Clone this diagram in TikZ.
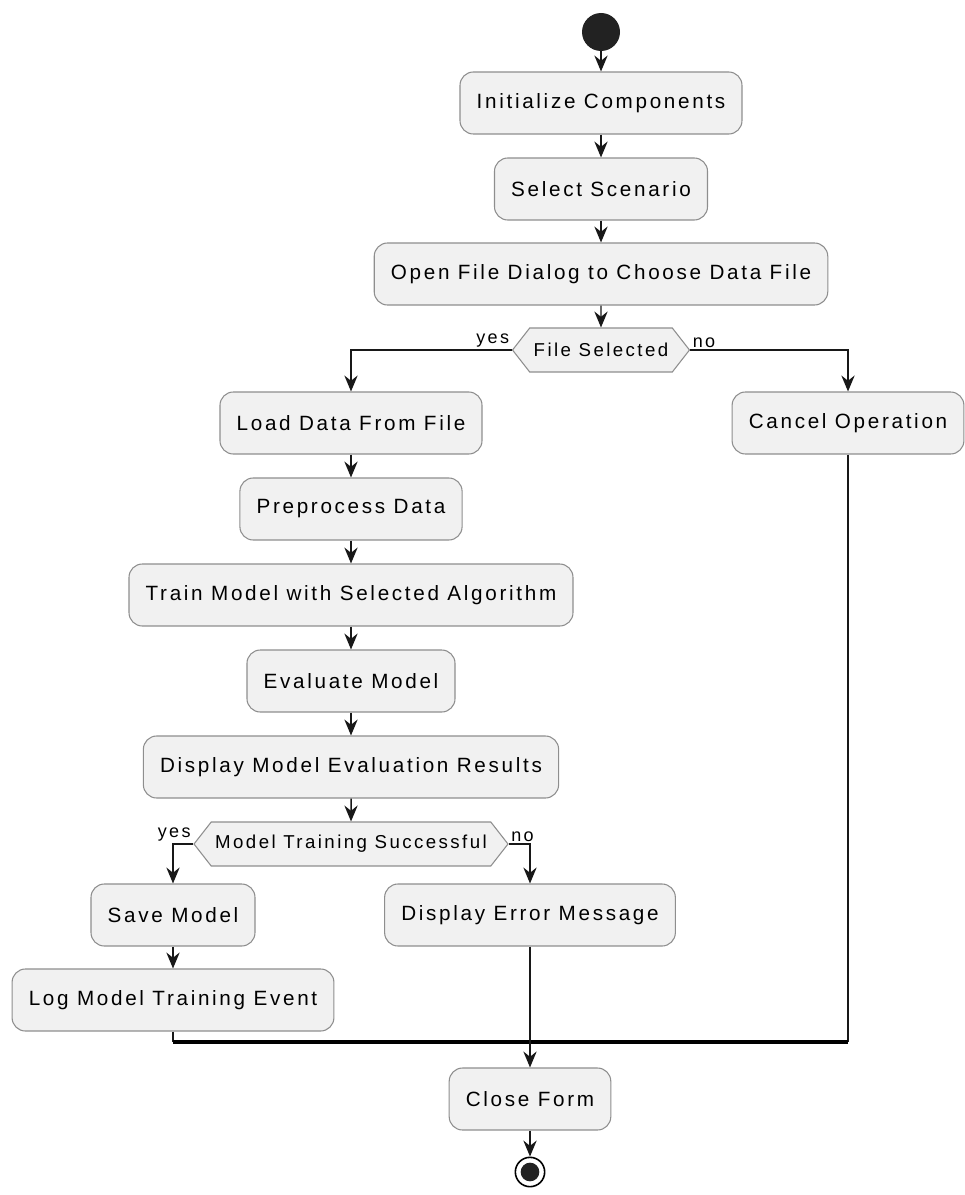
\documentclass[tikz,border=0pt]{standalone}
\usepackage{fontspec}
\setmainfont{Liberation Sans}
\newfontfamily\actfont[LetterSpace=13]{Liberation Sans}
\usetikzlibrary{arrows.meta,shapes.symbols}

\definecolor{actfill}{HTML}{F1F1F1}
\definecolor{actline}{HTML}{8E8E8E}
\definecolor{flowline}{HTML}{181818}
\definecolor{dotfill}{HTML}{222222}

\tikzset{
  act/.style={draw=actline, fill=actfill, rounded corners=10pt, line width=0.8pt,
    minimum height=46.5pt, inner xsep=12.5pt,
    font=\actfont\fontsize{15.5}{18}\selectfont},
  test/.style={signal, signal to=west and east, signal pointer angle=104,
    draw=actline, fill=actfill, line width=0.8pt, minimum height=33pt, inner xsep=3pt,
    font=\actfont\fontsize{14}{16}\selectfont},
  lbl/.style={inner sep=1.5pt, font=\actfont\fontsize{13.5}{15}\selectfont},
  flow/.style={draw=flowline, line width=1.1pt, -{Stealth[length=12pt,width=10pt,inset=4pt]}},
  line/.style={draw=flowline, line width=1.1pt},
  bar/.style={draw=black, line width=3pt},
  startdot/.style={circle, fill=dotfill, minimum size=28.5pt, inner sep=0pt},
  enddot/.style={circle, draw=black, line width=1.2pt, fill=white, minimum size=22pt, inner sep=0pt,
    path picture={\fill[dotfill] (path picture bounding box.center) circle (7pt);}}
}

\begin{document}
\begin{tikzpicture}[x=0.75pt,y=0.75pt,yscale=-1,xscale=1]
    \useasboundingbox (0,0) rectangle (964,1195);
    % Start node
    \node[startdot] (start) at (601,32) {};
    % Main column
    \node[act] (init) at (601,103) {Initialize Components};
    \node[act] (sel) at (601,189) {Select Scenario};
    \node[act] (open) at (601,274) {Open File Dialog to Choose Data File};
    \node[test] (fs) at (601,350) {File Selected};
    % yes branch
    \node[act] (load) at (351,423) {Load Data From File};
    \node[act] (prep) at (351,509) {Preprocess Data};
    \node[act] (train) at (351,595) {Train Model with Selected Algorithm};
    \node[act] (eval) at (351,681) {Evaluate Model};
    \node[act] (show) at (351,767) {Display Model Evaluation Results};
    \node[test] (mts) at (351,844) {Model Training Successful};
    \node[act] (save) at (173,915) {Save Model};
    \node[act] (log) at (173,1000) {Log Model Training Event};
    \node[act] (err) at (530,915) {Display Error Message};
    % no branch
    \node[act] (cancel) at (848,423) {Cancel Operation};
    % End
    \node[act] (close) at (530,1099) {Close Form};
    \node[enddot] (stop) at (530,1172) {};
    \coordinate (mrg) at (530,1042);

    % Straight Lines
    \draw[flow] (start) -- (init);
    \draw[flow] (init) -- (sel);
    \draw[flow] (sel) -- (open);
    \draw[flow] (open) -- (fs);
    \draw[flow] (fs.west) node[lbl, anchor=south east] {yes} -| (load.north);
    \draw[flow] (fs.east) node[lbl, anchor=south west] {no} -| (cancel.north);
    \draw[flow] (load) -- (prep);
    \draw[flow] (prep) -- (train);
    \draw[flow] (train) -- (eval);
    \draw[flow] (eval) -- (show);
    \draw[flow] (show) -- (mts);
    \draw[flow] (mts.west) node[lbl, anchor=south east] {yes} -| (save.north);
    \draw[flow] (mts.east) node[lbl, anchor=south west] {no} -| (err.north);
    \draw[flow] (save) -- (log);
    % Merge
    \draw[line] (log.south) -- (log.south |- mrg);
    \draw[line] (cancel.south) -- (cancel.south |- mrg);
    \draw[bar] (log.south |- mrg) -- (cancel.south |- mrg);
    \draw[flow] (err) -- (close);
    \draw[flow] (close) -- (stop);
\end{tikzpicture}
\end{document}
